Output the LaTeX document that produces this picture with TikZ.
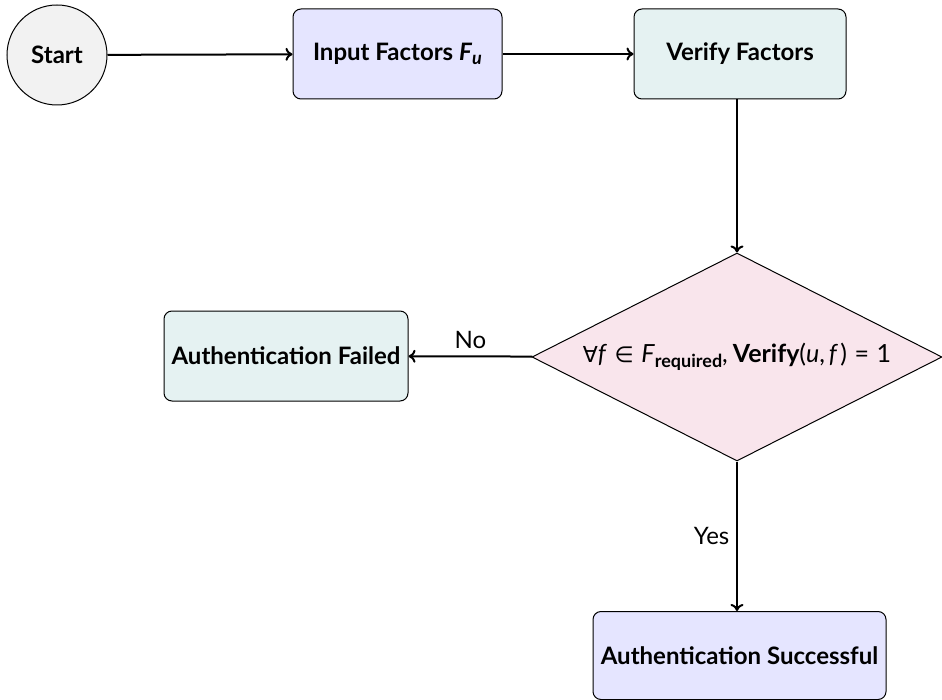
\documentclass[tikz,border=0pt]{standalone}
\usepackage{fontspec}
\setmainfont{Lato}
\newfontfamily\symfont{DejaVu Sans}
\usetikzlibrary{shapes.geometric, arrows.meta}

% lowered, smaller text used as an index
\newcommand\lowidx[1]{\raisebox{-0.35ex}{\fontsize{9}{10}\selectfont #1}}

\begin{document}
\begin{tikzpicture}[
  x=0.5pt, y=-0.5pt,
  font=\fontsize{12}{14}\selectfont,
  startnode/.style={circle, draw, line width=0.5pt, fill=gray!10, minimum size=50pt, inner sep=0pt, font=\fontsize{12}{14}\selectfont\bfseries},
  procbox/.style={rectangle, rounded corners=4pt, draw, line width=0.5pt, minimum height=45pt, inner sep=0pt, font=\fontsize{12}{14}\selectfont\bfseries},
  decision/.style={diamond, aspect=2, draw, line width=0.5pt, fill=purple!10, minimum width=205pt, minimum height=104pt, inner sep=0pt, font=\fontsize{12.5}{14}\selectfont},
  flow/.style={-{To[length=3.5pt, width=6.5pt]}, line width=1pt}
]
\useasboundingbox (0,0) rectangle (942,700);

% nodes of the flow
\node[startnode] (start) at (57,55) {Start};
\node[procbox, fill=blue!10, minimum width=104.5pt] (input) at (397.5,54) {Input Factors \textit{F}\lowidx{\textit{u}}};
\node[procbox, fill=teal!10, minimum width=106pt] (verify) at (740,54) {Verify Factors};
\node[decision] (check) at (737,357)
  {{\symfont\fontsize{11}{12}\selectfont ∀}\textit{f}\hspace{0.3em}{\symfont\fontsize{11}{12}\selectfont ∈}\hspace{0.3em}\textit{F}\lowidx{\textbf{required}},\hspace{0.2em}\textbf{Verify}(\textit{u},\hspace{0.15em}\textit{f}\hspace{0.1em})\hspace{0.3em}=\hspace{0.3em}1};
\node[procbox, fill=teal!10, minimum width=122pt] (fail) at (286,356) {Authentication Failed};
\node[procbox, fill=blue!10, minimum width=146.5pt, minimum height=44pt] (succ) at (739.5,655.5) {Authentication Successful};

% connectors
\draw[flow] (start) -- (input);
\draw[flow] (input) -- (verify);
\draw[flow] (verify.south -| check.north) -- (check.north);
\draw[flow] (check) -- node[above] {No} (fail);
\draw[flow] (check) -- node[left] {Yes} (succ.north -| check.south);
\end{tikzpicture}
\end{document}
